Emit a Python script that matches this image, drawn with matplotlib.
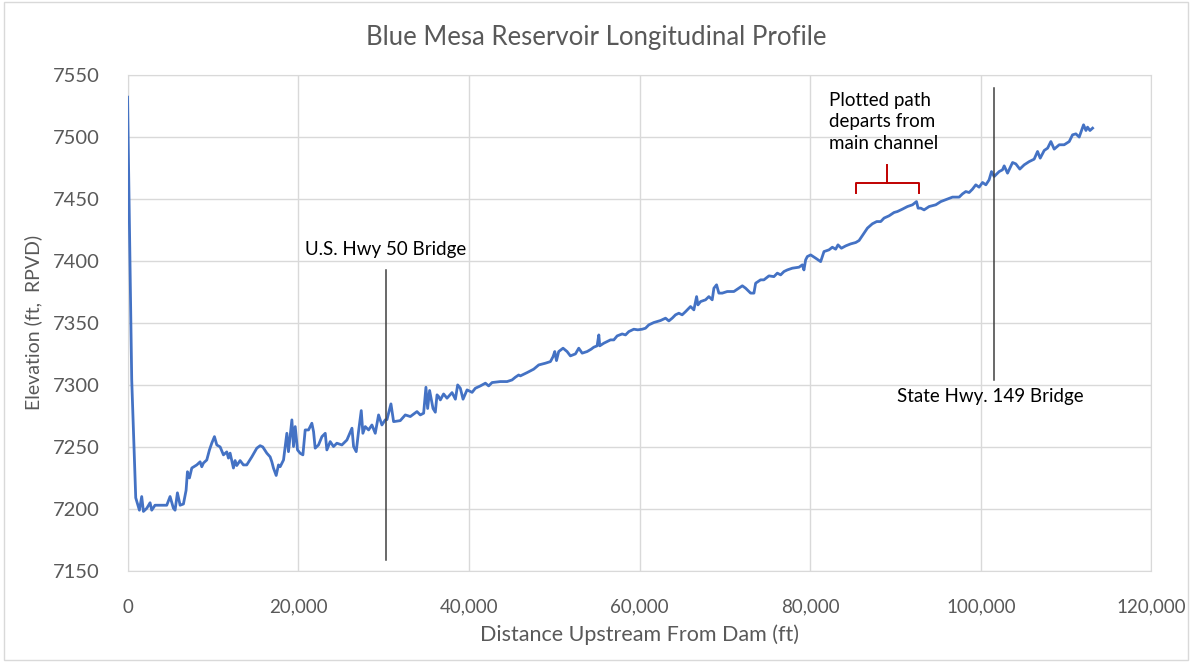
import matplotlib.pyplot as plt
from matplotlib.patches import Rectangle
from matplotlib.ticker import FuncFormatter

# profile (distance ft, elevation ft)
distance = [0, 490, 960, 1390, 1660, 1860, 2250, 2640, 2835, 3220, 4595, 4985, 5375, 5570,
            5845, 6160, 6550, 6860, 7020, 7255, 7530, 8115, 8505, 8700, 8895, 9285, 9600,
            9870, 10185, 10460, 10850, 11240, 11630, 11825, 12020, 12410, 12605, 12800,
            13190, 13580, 13970, 14565, 15150, 15540, 15850, 16320, 16710, 16910, 17100,
            17420, 17690,
            17890, 18280, 18670, 18860, 19260, 19450, 19650, 19920, 20230, 20550, 20820,
            21210, 21600, 21800, 21990, 22380, 22780, 23170, 23360, 23750, 24140, 24530,
            25120, 25710, 26300, 26490, 26800, 27070, 27390, 27580, 27860, 28250, 28640,
            29030, 29420, 29810, 30200, 30400, 30870, 31180, 31960, 32550, 33140, 33920,
            34310, 34700, 34970,
            35170, 35400, 35800, 36070, 36270, 36460, 36660, 37040, 37440, 38030, 38420,
            38690, 39000, 39320, 39790, 40380, 40760, 41350, 41940, 42320, 42720, 43690,
            44480, 45060, 45450, 45840, 46040, 46820, 47600, 48190, 48970, 49560, 49870,
            50070, 50270, 50530, 51040, 51510, 51900,
            52490, 52880, 53280, 53860, 54330, 54640, 55030, 55230, 55340, 55810, 56600,
            56990, 57380, 57970, 58360, 58750, 59330, 59800, 60310, 60700, 61090, 61680,
            62460, 63050, 63440, 63830, 64220, 64610, 65000, 65400, 65980, 66370, 66690,
            66850, 67160, 67740, 68130, 68520, 68720, 69030, 69300, 69700, 70290, 71060,
            71460, 72050, 72430, 73020, 73410, 73610, 74190,
            74580, 75170, 75750, 76150, 76540, 76930, 77320, 77910, 78690, 79080, 79270,
            79470, 79670, 80060, 80640, 81230, 81620, 82210, 82600, 82990, 83260, 83660,
            84170, 84750, 85340, 85730, 86310, 86710, 87290, 87800, 88270, 88660, 89240,
            89830, 90230, 90810, 91400, 91990, 92460, 92650, 92960, 93350, 93940, 94720,
            95310, 96090, 96680, 97460, 97850, 98240, 98630, 99020, 99410, 99800, 100200,
            100590, 100970, 101250, 101560, 102150, 102540, 102740, 103130, 103720, 104100,
            104570, 105080, 105660, 106250, 106650, 106960, 107430, 107830, 108210, 108600,
            109190, 109770, 110360, 110750, 111140, 111530, 112040, 112320, 112510, 112790,
            113100]
elevation = [7532, 7304, 7209, 7199, 7210, 7198, 7200.5, 7205, 7199, 7203, 7203, 7210, 7200.6,
             7199, 7213, 7203, 7204, 7215, 7230, 7225, 7233, 7235.5, 7238, 7234, 7237,
             7239.5, 7247.6, 7253, 7258.3, 7251.6, 7250, 7243.6, 7246, 7241, 7245, 7233,
             7239, 7235, 7239, 7235.5, 7235.5, 7242, 7249, 7251, 7250, 7245, 7242, 7238,
             7233, 7227, 7235.5,
             7234.1, 7239.5, 7261, 7246.2, 7271.8, 7250.3, 7266.4, 7247.6, 7244.9, 7243.6,
             7263.7, 7263.7, 7269.1, 7262.3, 7249, 7251.6, 7258.3, 7261, 7247.6, 7254.3,
             7250.3, 7253, 7251.6, 7255.6, 7265.1, 7250.3, 7246.2, 7262.3, 7279.3, 7261,
             7266.4, 7263.7, 7267.7, 7261, 7275.8, 7267.7, 7271.8, 7272, 7284.7, 7270.4,
             7271.2, 7275.8, 7274.5, 7278.5, 7275.8, 7277.2, 7298.1,
             7281, 7295.5, 7281, 7278, 7292, 7290.6, 7287.9, 7292.7, 7289.3, 7293.8, 7288.5,
             7300, 7297.3, 7288.5, 7296, 7294, 7297.3, 7299.2, 7301.4, 7299.2, 7301.9,
             7302.7, 7302.7, 7304, 7306.2, 7308, 7307.3, 7309.9, 7312.7, 7316.1, 7317.5,
             7318.8, 7322.8, 7326.9, 7319.6, 7326.9, 7329.6, 7326.9, 7323.4,
             7325, 7329.6, 7325.6, 7326.9, 7328.8, 7330.4, 7331.5, 7340.3, 7331.5, 7333.6,
             7336.3, 7336.3, 7339.5, 7341.1, 7340.3, 7343, 7344.9, 7344.4, 7344.9, 7345.7,
             7348.4, 7350.3, 7351.9, 7353.8, 7351.6, 7353.8, 7356.5, 7357.8, 7356.5, 7359.1,
             7363.2, 7360.5, 7371.2, 7364.5, 7367.2, 7368.6, 7371.2, 7368.6, 7378, 7380.7,
             7374, 7374, 7375.3, 7375.3, 7377.2, 7379.9, 7378, 7374, 7374, 7382, 7384.7,
             7384.7, 7387.9, 7387.3, 7390.1, 7388.7, 7391.4, 7392.7, 7394.1, 7394.9, 7396.8,
             7392.7, 7400.8, 7403.5, 7404.8, 7402.2, 7399.4, 7407.5, 7408.9, 7411, 7409.4,
             7412.9, 7410.2, 7412.1, 7413.7, 7414.8, 7416.4, 7422.3, 7426.4, 7429.9, 7431.7,
             7431.7, 7434.5, 7436.3, 7439, 7439.8, 7441.7, 7443.8, 7445.2, 7447.8, 7442.5,
             7442.5, 7441.1, 7443.8, 7445.2,
             7447.8, 7449.8, 7451.4, 7451.4, 7454, 7455.9, 7455.1, 7457.8, 7461.3, 7459.4,
             7463.2, 7461.3, 7465.3, 7472, 7468, 7472, 7473.4, 7476.6, 7470.7, 7479.3,
             7478.2, 7474, 7477.4, 7480, 7482, 7488.2, 7482.8, 7489, 7490.9, 7496.2, 7490.1,
             7493.6, 7493.6, 7496.2, 7501.6, 7502.4, 7499.8, 7509.7, 7505.1, 7507.8, 7505.1,
             7507]

# bridge markers: x position, y from, y to
bridge_names = ["U.S. Hwy 50 Bridge", "State Hwy. 149 Bridge"]
bridge_x = [30330, 101560]
bridge_y0 = [7159, 7304]
bridge_y1 = [7393, 7539]

plt.rcParams['font.family'] = ['Lato', 'DejaVu Sans']
grey = '#595959'

fig = plt.figure(figsize=(11.92, 6.62), dpi=100)
ax = fig.add_axes([0.107, 0.1375, 0.859, 0.7495])

ax.plot(distance, elevation, color='#4472C4', lw=2.0, zorder=3)

for bx, y0, y1 in zip(bridge_x, bridge_y0, bridge_y1):
    ax.plot([bx, bx], [y0, y1], color='#404040', lw=1.1, zorder=4)

ax.text(30200, 7409, bridge_names[0], ha='center', va='center', fontsize=13.5, color='black')
ax.text(101060, 7291, bridge_names[1], ha='center', va='center', fontsize=13.5, color='black')
ax.text(82250, 7512, "Plotted path\ndeparts from\nmain channel", ha='left', va='center',
        fontsize=13.5, color='black', linespacing=1.3)

# red brace over the section that leaves the channel
bx0, bx1, bmid = 85330, 92720, 89000
ax.plot([bx0, bx0, bx1, bx1], [7455, 7463, 7463, 7455], color='#C00000', lw=1.4, zorder=4)
ax.plot([bmid, bmid], [7463, 7477], color='#C00000', lw=1.4, zorder=4)

ax.set_xlim(0, 120000)
ax.set_ylim(7150, 7550)
ax.set_xticks(range(0, 120001, 20000))
ax.set_yticks(range(7150, 7551, 50))
ax.xaxis.set_major_formatter(FuncFormatter(lambda v, p: f"{int(v):,}"))
ax.grid(True, color='#D9D9D9', lw=1)
ax.set_axisbelow(True)
for s in ax.spines.values():
    s.set_color('#D9D9D9')
ax.tick_params(axis='x', length=0, labelsize=13.5, colors=grey, pad=20)
ax.tick_params(axis='y', length=0, labelsize=14.5, colors=grey, pad=20)

ax.set_xlabel("Distance Upstream From Dam (ft)", fontsize=15.5, color=grey, labelpad=6)
ax.set_ylabel("Elevation (ft,  RPVD)", fontsize=14, color=grey, labelpad=8)
fig.text(0.5, 0.944, "Blue Mesa Reservoir Longitudinal Profile", ha='center', va='center',
         fontsize=18.5, color=grey)

fig.patches.append(Rectangle((0.003, 0.003), 0.994, 0.994, transform=fig.transFigure,
                             fill=False, edgecolor='#D9D9D9', lw=1))

fig.savefig("out.png", dpi=100)
